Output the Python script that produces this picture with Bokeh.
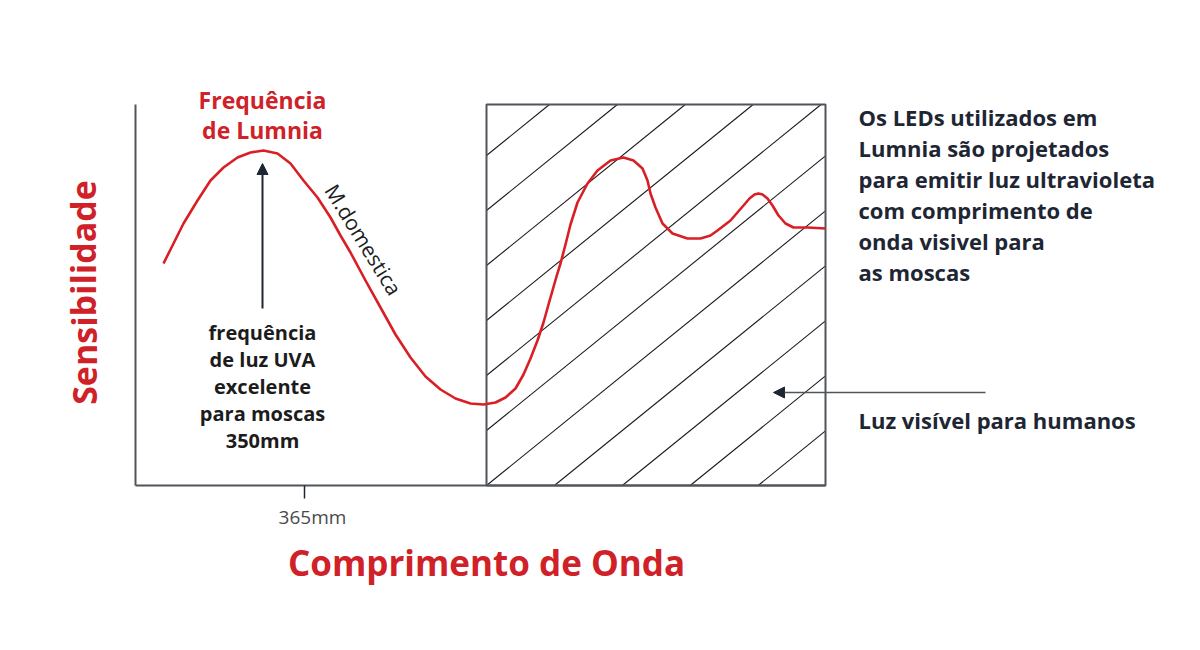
import numpy as np
from bokeh.plotting import figure
from bokeh.models import Range1d, Arrow, NormalHead
from bokeh.core.properties import value
from bokeh.embed import file_html
from bokeh.resources import INLINE

# ---------------- data ----------------
# wavelength position (axis units from origin) and sensitivity of the curve
curve_x = [28, 38, 48, 62, 75, 88, 102, 115, 128, 142, 155, 168, 182, 195, 205, 215,
           230, 245, 260, 275, 290, 305, 320, 335, 348, 360, 370, 380, 388, 395,
           402, 408, 413, 417, 421, 425, 430, 435, 442, 452, 462, 475, 488, 498,
           507, 512, 515, 520, 527, 537, 552, 565, 575, 582, 595, 608, 614, 619,
           623, 627, 632, 637, 643, 650, 658, 672, 690]
curve_y = [222, 242, 262, 285, 305, 318, 328, 333, 335, 332, 322, 305, 288, 268, 250, 233,
           205, 178, 151, 128, 109, 96, 87, 82, 81, 83, 88, 97, 111, 127,
           145, 163, 181, 195, 209, 222, 241, 261, 283, 302, 315, 325, 328, 325,
           317, 305, 292, 278, 262, 252, 247, 247, 250, 255, 265, 280, 287, 291,
           292, 291, 287, 280, 270, 262, 258, 258, 257]

tick_pos = [169]
tick_labels = ["365mm"]

uv_peak_x = 127              # Lumnia frequency (arrow position)
visible_start = 351          # start of visible-light band
visible_end = 690
axis_end_x = 690
axis_top_y = 381

title_lines = ["Frequência", "de Lumnia"]
note_lines = ["frequência", "de luz UVA", "excelente", "para moscas", "350mm"]
info_lines = ["Os LEDs utilizados em", "Lumnia são projetados",
              "para emitir luz ultravioleta", "com comprimento de",
              "onda visivel para", "as moscas"]
species_label = "M.domestica"
visible_label = "Luz visível para humanos"
x_title = "Comprimento de Onda"
y_title = "Sensibilidade"

# ---------------- styling ----------------
RED = "#d91f26"
TXT_RED = "#cf2127"
DARK = "#1e2633"
GREY = "#50555c"
FONT = "Open Sans"

p = figure(width=1200, height=650, x_range=Range1d(-135, 1065), y_range=Range1d(-165, 485),
           output_backend="svg", toolbar_location=None, min_border=0,
           x_axis_location=None, y_axis_location=None)
p.outline_line_color = None
p.xgrid.visible = False
p.ygrid.visible = False
p.background_fill_color = "white"

# hatch lines inside the visible-light box
slope = 0.81
spacing = 55
xs, ys = [], []
b = axis_top_y - 51
while b > -(visible_end - visible_start) * slope:
    x_a = visible_start if b >= 0 else visible_start + (-b) / slope
    y_a = max(b, 0)
    x_b = min(visible_end, visible_start + (axis_top_y - b) / slope)
    y_b = b + slope * (x_b - visible_start)
    xs.append([x_a, x_b]); ys.append([y_a, y_b])
    b -= spacing
p.multi_line(xs, ys, line_color="#1a1a1a", line_width=1.1)

# box
p.quad(left=[visible_start], right=[visible_end], bottom=[0], top=[axis_top_y],
       fill_color=None, line_color=GREY, line_width=2)

# axes
p.line([0, 0], [0, axis_top_y], line_color=GREY, line_width=2)
p.line([0, axis_end_x], [0, 0], line_color=GREY, line_width=2)
p.segment(x0=tick_pos, y0=[0] * len(tick_pos), x1=tick_pos, y1=[-13] * len(tick_pos),
          line_color=DARK, line_width=1.5)
p.text(x=[t + 8 for t in tick_pos], y=[-31] * len(tick_pos), text=tick_labels,
       text_font=value(FONT), text_font_size="19px", text_color="#4a4a4a",
       text_align="center", text_baseline="middle")

# curve
p.line(curve_x, curve_y, line_color=RED, line_width=2.6, line_join="round")

# arrows
p.add_layout(Arrow(end=NormalHead(size=11, fill_color=DARK, line_color=DARK),
                   x_start=uv_peak_x, y_start=177, x_end=uv_peak_x, y_end=322,
                   line_color=DARK, line_width=2))
p.add_layout(Arrow(end=NormalHead(size=11, fill_color=DARK, line_color=DARK),
                   x_start=850, y_start=93, x_end=638, y_end=93,
                   line_color=GREY, line_width=1.5))

# texts
p.text(x=[uv_peak_x] * 2, y=[386, 356], text=title_lines, text_font=value(FONT),
       text_font_style="bold", text_font_size="23px", text_color=TXT_RED,
       text_align="center", text_baseline="middle")
p.text(x=[uv_peak_x] * 5, y=[153, 126, 99, 72, 45], text=note_lines, text_font=value(FONT),
       text_font_style="bold", text_font_size="20px", text_color="#1c1c1c",
       text_align="center", text_baseline="middle")
p.text(x=[228], y=[246], text=[species_label], angle=[-1.02], text_font=value(FONT),
       text_font_size="21px", text_color="#1c1c1c",
       text_align="center", text_baseline="middle")
p.text(x=[723] * 6, y=[369 - 31 * i for i in range(6)], text=info_lines,
       text_font=value(FONT), text_font_style="bold", text_font_size="22px",
       text_color=DARK, text_align="left", text_baseline="middle")
p.text(x=[723], y=[66], text=[visible_label], text_font=value(FONT),
       text_font_style="bold", text_font_size="22px", text_color=DARK,
       text_align="left", text_baseline="middle")
p.text(x=[-52], y=[193], text=[y_title], angle=[np.pi / 2], text_font=value(FONT),
       text_font_style="bold", text_font_size="34px", text_color=TXT_RED,
       text_align="center", text_baseline="middle")
p.text(x=[351], y=[-77], text=[x_title], text_font=value(FONT),
       text_font_style="bold", text_font_size="35px", text_color=TXT_RED,
       text_align="center", text_baseline="middle")

open("out.html", "w").write(file_html(p, INLINE))
